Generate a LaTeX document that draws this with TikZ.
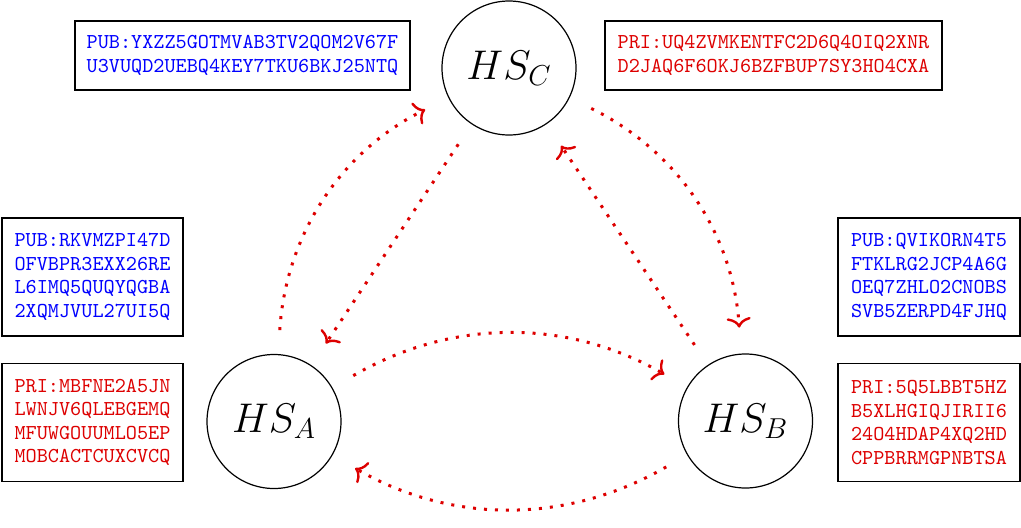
\documentclass[tikz,border=0pt]{standalone}
\usepackage{mathtools}
\usepackage{tikz}
\usetikzlibrary{
  	positioning,
  	arrows.meta,
  	calc
  }
\definecolor{keyred}{RGB}{221,0,0}
\definecolor{keyblue}{RGB}{0,0,255}
\tikzset{
  hs/.style={draw, circle, semithick, minimum size=67pt, inner sep=0pt, font=\huge},
  keybox/.style={draw, line width=.7pt, align=left, inner sep=0pt,
    font=\fontsize{10.6}{11.8}\selectfont\ttfamily},
  pubkey/.style={keybox, text=keyblue},
  prikey/.style={keybox, text=keyred},
  flow/.style={keyred, line width=1.5pt, dash pattern=on 1.5pt off 4pt,
    -{To[length=5pt, width=12pt, line width=1.2pt]}, shorten <=12pt, shorten >=13pt}
}
\begin{document}
\begin{tikzpicture}[x=.5pt, y=.5pt]
	\useasboundingbox (0,0) rectangle (1021,527);
	\node[hs] (HSC) at (509,459) {$HS_C$};
	\node[hs] (HSA) at (274,105.5) {$HS_A$};
	\node[hs] (HSB) at (745.5,106) {$HS_B$};
%
	\node[pubkey, minimum width=167.5pt, minimum height=34.5pt] (pubC) at (242.5,471.5) {PUB:YXZZ5GOTMVAB3TV2QOM2V67F\\U3VUQD2UEBQ4KEY7TKU6BKJ25NTQ};
	\node[prikey, minimum width=168.5pt, minimum height=34.5pt] (priC) at (773.5,471.5) {PRI:UQ4ZVMKENTFC2D6Q4OIQ2XNR\\D2JAQ6F6OKJ6BZFBUP7SY3HO4CXA};
%
	\node[pubkey, minimum width=90.5pt, minimum height=59pt] (pubA) at (92.5,250) {PUB:RKVMZPI47D\\OFVBPR3EXX26RE\\L6IMQ5QUQYQGBA\\2XQMJVUL27UI5Q};
	\node[prikey, minimum width=90.5pt, minimum height=59pt, below=26 of pubA] (priA) {PRI:MBFNE2A5JN\\LWNJV6QLEBGEMQ\\MFUWGOUUMLO5EP\\MOBCACTCUXCVCQ};
%
	\node[pubkey, minimum width=91pt, minimum height=59pt] (pubB) at (929,250) {PUB:QVIKORN4T5\\FTKLRG2JCP4A6G\\OEQ7ZHLO2CNOBS\\SVB5ZERPD4FJHQ};
	\node[prikey, minimum width=91pt, minimum height=59pt, below=26 of pubB] (priB) {PRI:5Q5LBBT5HZ\\B5XLHGIQJIRII6\\24O4HDAP4XQ2HD\\CPPBRRMGPNBTSA};
%
	\draw[flow] (HSC) -- (HSA);
	\draw[flow] (HSA) to[bend left=30] (HSC);
	\draw[flow] (HSB) -- (HSC);
	\draw[flow] (HSC) to[bend left=30] (HSB);
	\draw[flow] (HSA) to[bend left=30] (HSB);
	\draw[flow] (HSB) to[bend left=30] (HSA);
\end{tikzpicture}
\end{document}
